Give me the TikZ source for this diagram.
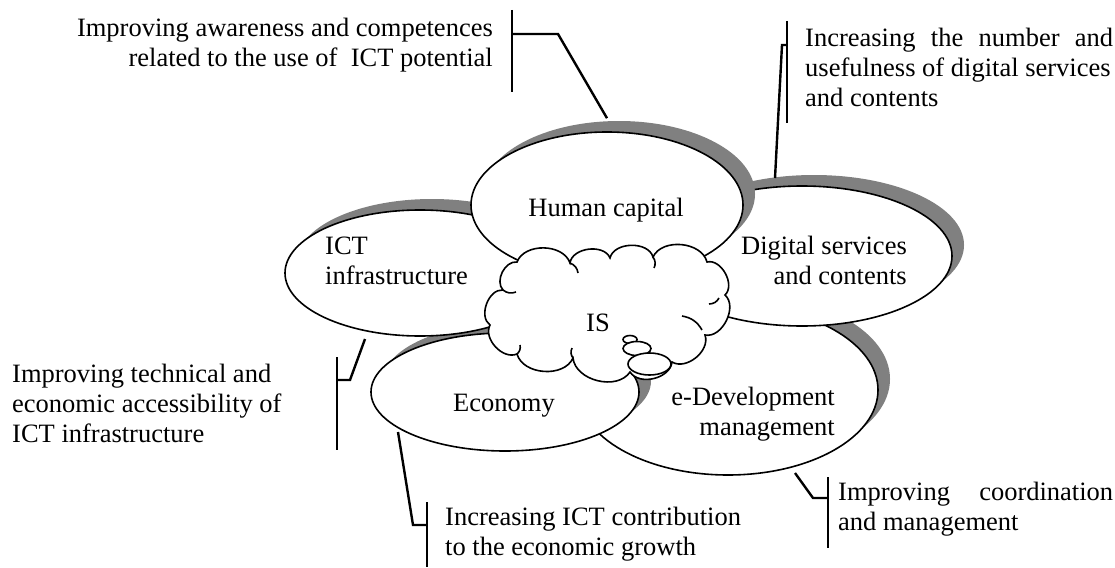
\documentclass[tikz,border=0pt]{standalone}
\usepackage{fontspec}
\setmainfont{Liberation Serif}
\usetikzlibrary{shapes.geometric,shadows,calc}
\definecolor{shadowgray}{RGB}{128,128,128}

\begin{document}
\begin{tikzpicture}[x=1pt,y=-1pt,
  petal/.style={ellipse, draw=black, line width=1.6pt, fill=white, inner sep=0pt,
    drop shadow={shadow xshift=12pt, shadow yshift=11pt, fill=shadowgray, opacity=1}},
  txt/.style={inner sep=0pt, font=\fontsize{26.5}{30}\selectfont},
  lead/.style={line width=2.4pt},
  cloudline/.style={line width=1.6pt},
  bubble/.style={ellipse, draw=black, line width=1.6pt, fill=white, inner sep=0pt},
]
\useasboundingbox (0,0) rectangle (1115,567);
\fill[white] (0,0) rectangle (1115,567);

% petals, back to front
\node[petal, minimum width=300, minimum height=170] (ed)  at (728,390) {};
\node[petal, minimum width=300, minimum height=140] (ds)  at (802,256) {};
\node[petal, minimum width=268, minimum height=118] (eco) at (505,392) {};
\node[petal, minimum width=270, minimum height=126] (ict) at (420,273) {};
\node[petal, minimum width=272, minimum height=146] (hc)  at (607,205) {};

% central cloud
\draw[cloudline, fill=white]
  (490,325) to[bend left=75] (503,290) to[bend left=70] (517,262)
  to[bend left=70] (570,263) to[bend left=75] (610,258) to[bend left=75] (653,257)
  to[bend left=70] (707,262) to[bend left=75] (725,295) to[bend left=75] (705,335)
  to[bend left=70] (672,362) to[bend left=70] (630,372) to[bend left=70] (573,358)
  to[bend left=70] (517,354) to[bend left=70] (490,325) -- cycle;
% inner curls of the cloud
\draw[cloudline] (503,290) to[bend right=30] (516,292);
\draw[cloudline] (570,263) to[bend left=30] (578,273);
\draw[cloudline] (653,257) to[bend left=30] (654,268);
\draw[cloudline] (719,298) to[bend left=30] (709,304);
\draw[cloudline] (682,316) to[bend left=25] (702,330);
\draw[cloudline] (573,358) to[bend left=30] (572,348);
\draw[cloudline] (517,354) to[bend right=30] (520,345);

\node[bubble, minimum width=14, minimum height=8]  (b1) at (630,339.5) {};
\node[bubble, minimum width=28, minimum height=14] (b2) at (637,348.5) {};
\node[bubble, minimum width=43, minimum height=22] (b3) at (649.5,364) {};

% labels
\node[txt] (hc-t) at (606,210) {Human capital};
\node[txt, align=left, anchor=west] (ict-t) at (325,261) {ICT\\infrastructure};
\node[txt, align=right, anchor=east] (ds-t) at (907,260) {Digital services\\and contents};
\node[txt, align=right, anchor=east] (ed-t) at (835,414) {e-Development\\management};
\node[txt] (eco-t) at (504,406) {Economy};
\node[txt] (is-t) at (598,323) {IS};

% notes
\node[txt, align=right, anchor=east] (n1) at (493,45)
  {Improving awareness and competences\\related to the use of\ \ ICT potential};
\node[txt, align=left, anchor=west] (n2) at (805,67)
  {\makebox[308pt][s]{Increasing the number and}\\usefulness of digital services\\and contents};
\node[txt, align=left, anchor=west] (n3) at (12,403)
  {Improving technical and\\economic accessibility of\\ICT infrastructure};
\node[txt, align=left, anchor=west] (n4) at (445,534)
  {Increasing ICT contribution\\to the economic growth};
\node[txt, align=left, anchor=west] (n5) at (838,509)
  {\makebox[275pt][s]{Improving coordination}\\and management};

% callout brackets
\coordinate (k1) at (558,34);  \coordinate (t1) at (512,34);
\draw[lead] (512,10) -- (512,92);
\draw[lead] ([shift={(0,-13)}]hc.north) -- (k1) -- (t1);

\coordinate (k2) at (782,45);  \coordinate (t2) at (787,45);
\draw[lead] (787,21) -- (787,123);
\draw[lead] (775,178) -- (k2) -- (t2);

\coordinate (k3) at (350,380); \coordinate (t3) at (337,380);
\draw[lead] (337,357) -- (337,450);
\draw[lead] (365,339) -- (k3) -- (t3);

\coordinate (k4) at (413,525); \coordinate (t4) at (427,525);
\draw[lead] (427,502) -- (427,567);
\draw[lead] (398,432) -- (k4) -- (t4);

\coordinate (k5) at (813,498); \coordinate (t5) at (828,498);
\draw[lead] (828,477) -- (828,548);
\draw[lead] (795,473) -- (k5) -- (t5);
\end{tikzpicture}
\end{document}
